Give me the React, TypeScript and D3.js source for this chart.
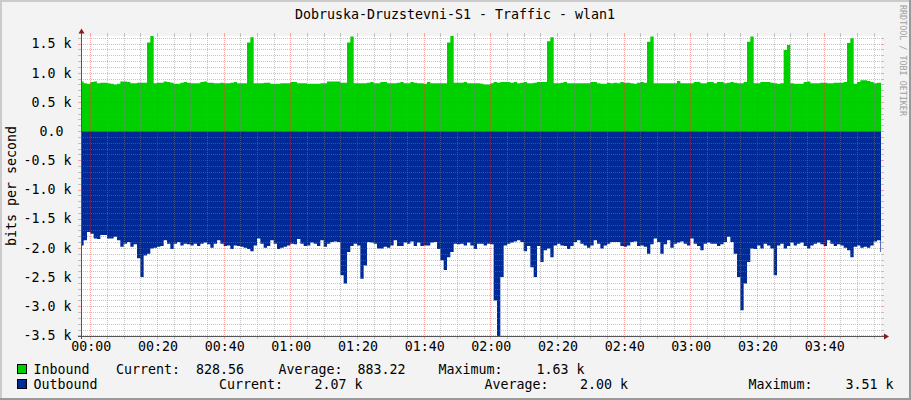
import { useEffect, useRef } from 'react'
import * as d3 from 'd3'

const title = 'Dobruska-Druzstevni-S1 - Traffic - wlan1'
const yAxisTitle = 'bits per second'
const watermark = 'RRDTOOL / TOBI OETIKER'

// one sample per minute, first sample at 23:57 (minute -3)
const firstMinute = -3

// bits per second, inbound traffic
const inbound = [
  850, 820, 810, 840, 850, 820, 830, 830, 820, 810,
  800, 810, 850, 850, 840, 820, 820, 830, 830, 830,
  1520, 1630, 820, 830, 830, 850, 840, 830, 810, 810,
  830, 840, 830, 820, 820, 820, 840, 850, 830, 830,
  820, 820, 830, 820, 820, 830, 840, 820, 820, 820,
  1520, 1610, 820, 820, 820, 830, 830, 810, 810, 810,
  820, 820, 820, 840, 840, 820, 820, 820, 810, 810,
  810, 810, 820, 820, 850, 850, 850, 850, 830, 830,
  1520, 1620, 820, 820, 820, 820, 830, 840, 820, 820,
  840, 840, 820, 820, 820, 830, 840, 820, 820, 840,
  830, 820, 820, 810, 840, 820, 820, 820, 820, 820,
  1520, 1630, 830, 830, 830, 840, 820, 820, 820, 820,
  810, 800, 800, 820, 840, 830, 840, 840, 840, 830,
  840, 820, 830, 840, 820, 820, 830, 840, 840, 840,
  1540, 1610, 820, 820, 830, 840, 820, 820, 820, 820,
  820, 820, 820, 840, 840, 820, 810, 810, 830, 820,
  830, 820, 840, 830, 830, 820, 810, 830, 840, 830,
  1530, 1620, 820, 820, 820, 820, 820, 820, 820, 860,
  820, 820, 820, 820, 840, 840, 820, 820, 840, 840,
  820, 840, 840, 820, 830, 840, 830, 820, 820, 840,
  1530, 1620, 820, 820, 840, 840, 840, 830, 820, 810,
  820, 1390, 1475, 820, 810, 810, 810, 840, 850, 820,
  820, 820, 830, 830, 820, 820, 830, 830, 830, 840,
  1510, 1590, 810, 840, 870, 870, 860, 840, 820, 830,
  829,
]

// bits per second, outbound traffic (drawn below zero)
const outbound = [
  1960, 1870, 1730, 1760, 1840, 1850, 1780, 1780, 1840, 1840,
  1810, 1870, 1980, 1930, 1900, 1980, 1940, 2180, 2500, 2130,
  2100, 2010, 2000, 1980, 1970, 1870, 1930, 2020, 1930, 1900,
  1960, 1930, 1940, 1960, 1930, 1970, 1930, 1910, 1940, 2000,
  1930, 1870, 1930, 1970, 1960, 2020, 1960, 1970, 1980, 2000,
  2020, 2060, 1960, 1840, 1930, 2000, 1970, 1870, 1930, 2020,
  2000, 1980, 1960, 1930, 1940, 1850, 1930, 1970, 1960, 1910,
  1930, 1970, 1870, 1980, 1930, 1900, 1890, 1900, 2470, 2610,
  2070, 1970, 1930, 1960, 2530, 2300, 1900, 1910, 1930, 2010,
  2010, 1980, 2000, 1960, 1870, 1970, 1970, 1910, 1930, 1890,
  1970, 1910, 1970, 1960, 1960, 1910, 1900, 2020, 2210, 2380,
  2160, 2070, 1930, 1940, 1930, 1960, 1910, 1960, 2020, 1930,
  1930, 1960, 1930, 1940, 2900, 3510, 2500, 1960, 1930, 1910,
  1890, 1870, 1900, 2060, 1970, 2330, 2500, 1970, 2240, 2040,
  2010, 2160, 1960, 1930, 1960, 1970, 2020, 1970, 1900, 1870,
  1930, 1960, 2000, 1960, 1870, 1930, 2010, 1960, 1930, 1900,
  1900, 1900, 1970, 1980, 1960, 1900, 1890, 1970, 1960, 1980,
  2100, 1940, 1840, 1900, 2100, 1940, 1870, 2000, 1930, 1910,
  1890, 1930, 1960, 1840, 1930, 1970, 2040, 1930, 1910, 1930,
  1930, 1970, 1940, 1900, 1810, 1900, 2100, 2500, 3070, 2610,
  2240, 2010, 2020, 1960, 2010, 1930, 1960, 2010, 2470, 1960,
  1930, 2010, 1970, 1910, 1960, 1930, 1910, 1970, 2010, 1960,
  1930, 1910, 1940, 1970, 1870, 1930, 1970, 1940, 1960, 2000,
  2040, 2160, 1980, 1960, 2000, 1980, 2000, 1960, 1890, 1870,
  2070,
]

const timeTicks = [0, 20, 40, 60, 80, 100, 120, 140, 160, 180, 200, 220]
const valueTicks = [1500, 1000, 500, 0, -500, -1000, -1500, -2000, -2500, -3000, -3500]

const seriesNames = ['Inbound', 'Outbound']
const seriesColors = ['#00CF00', '#002A97']
const currentValues = ['828.56', '2.07 k']
const averageValues = ['883.22', '2.00 k']
const maximumValues = ['1.63 k', '3.51 k']

const FONT = '"DejaVu Sans Mono", "Liberation Mono", monospace'

export default function App() {
  const svgRef = useRef<SVGSVGElement>(null)

  useEffect(() => {
    if (!svgRef.current) return
    const width = 911
    const height = 400
    const left = 81
    const right = 881
    const top = 36
    const bottom = 336

    const svg = d3.select(svgRef.current)
    svg.selectAll('*').remove()

    const xScale = d3.scaleLinear().domain([-2.8, 237.2]).range([left, right])
    const yScale = d3.scaleLinear().domain([-3510, 1630]).range([bottom, top])

    // frame
    svg.append('rect').attr('width', width).attr('height', height).attr('fill', '#f3f3f3')
    svg.append('path').attr('d', `M1,${height} V1 H${width}`).attr('fill', 'none').attr('stroke', '#cbcbcb').attr('stroke-width', 2)
    svg.append('path').attr('d', `M0,${height - 1} H${width - 1} V0`).attr('fill', 'none').attr('stroke', '#999').attr('stroke-width', 2)

    svg.append('rect')
      .attr('x', left).attr('y', top)
      .attr('width', right - left).attr('height', bottom - top)
      .attr('fill', '#fff')

    svg.append('defs').append('clipPath').attr('id', 'canvas-clip')
      .append('rect')
      .attr('x', left).attr('y', top)
      .attr('width', right - left).attr('height', bottom - top)

    const toPoints = (values: number[], sign: number) => {
      const pts = values.map((v, i) => ({ t: firstMinute + i, v: v * sign }))
      // close the last step
      pts.push({ t: firstMinute + values.length, v: values[values.length - 1] * sign })
      return pts
    }

    const area = d3.area<{ t: number; v: number }>()
      .x(d => xScale(d.t))
      .y0(yScale(0))
      .y1(d => yScale(d.v))
      .curve(d3.curveStepAfter)

    const plot = svg.append('g').attr('clip-path', 'url(#canvas-clip)')
    plot.append('path').attr('d', area(toPoints(inbound, 1))).attr('fill', seriesColors[0])
    plot.append('path').attr('d', area(toPoints(outbound, -1))).attr('fill', seriesColors[1])

    // grid (drawn over the data, as rrdtool does)
    const grid = svg.append('g').attr('shape-rendering', 'crispEdges')
    const minorColor = 'rgba(130,130,130,0.45)'
    const majorColor = 'rgba(255,40,40,0.4)'

    const hValues = d3.range(-3500, 1700, 100)
    hValues.forEach(v => {
      const y = Math.round(yScale(v)) + 0.5
      const major = v % 500 === 0
      const color = major ? majorColor : minorColor
      grid.append('line')
        .attr('x1', left).attr('x2', right).attr('y1', y).attr('y2', y)
        .attr('stroke', color).attr('stroke-dasharray', '1,1')
      grid.append('line')
        .attr('x1', left - 3).attr('x2', left).attr('y1', y).attr('y2', y)
        .attr('stroke', color)
      grid.append('line')
        .attr('x1', right).attr('x2', right + 3).attr('y1', y).attr('y2', y)
        .attr('stroke', color)
    })

    const vValues = d3.range(0, 240, 5).filter(t => xScale(t) < right)
    vValues.forEach(t => {
      const x = Math.round(xScale(t)) + 0.5
      const major = t % 20 === 0
      const color = major ? majorColor : minorColor
      grid.append('line')
        .attr('x1', x).attr('x2', x).attr('y1', top).attr('y2', bottom)
        .attr('stroke', color).attr('stroke-dasharray', '1,1')
      grid.append('line')
        .attr('x1', x).attr('x2', x).attr('y1', top - 3).attr('y2', top)
        .attr('stroke', color)
      grid.append('line')
        .attr('x1', x).attr('x2', x).attr('y1', bottom).attr('y2', bottom + 3)
        .attr('stroke', color)
    })

    // axes with arrows
    const axisColor = '#555'
    const arrowColor = '#8b1a1a'
    svg.append('line')
      .attr('x1', left + 0.5).attr('x2', left + 0.5).attr('y1', bottom + 3).attr('y2', top - 4)
      .attr('stroke', axisColor)
    svg.append('line')
      .attr('x1', left - 3).attr('x2', right + 4).attr('y1', bottom + 0.5).attr('y2', bottom + 0.5)
      .attr('stroke', axisColor)
    svg.append('path')
      .attr('d', `M${left - 2.5},${top - 2.5} L${left + 3.5},${top - 2.5} L${left + 0.5},${top - 7.5} Z`)
      .attr('fill', arrowColor)
    svg.append('path')
      .attr('d', `M${right + 3},${bottom - 2.5} L${right + 3},${bottom + 3.5} L${right + 8},${bottom + 0.5} Z`)
      .attr('fill', arrowColor)

    // y tick labels
    const fmtValue = (v: number) => (v === 0 ? '0.0 ' : `${(v / 1000).toFixed(1)} k`)
    svg.append('g')
      .selectAll('text')
      .data(valueTicks)
      .join('text')
      .attr('x', 71.5)
      .attr('y', d => yScale(d))
      .attr('dy', '0.36em')
      .attr('text-anchor', 'end')
      .style('white-space', 'pre')
      .attr('font-family', FONT)
      .attr('font-size', 13.3)
      .attr('fill', '#000')
      .text(d => fmtValue(d))

    // x tick labels
    const fmtTime = (t: number) =>
      `${String(Math.floor(t / 60)).padStart(2, '0')}:${String(t % 60).padStart(2, '0')}`
    svg.append('g')
      .selectAll('text')
      .data(timeTicks)
      .join('text')
      .attr('x', d => xScale(d) + 1)
      .attr('y', 350.7)
      .attr('text-anchor', 'middle')
      .attr('font-family', FONT)
      .attr('font-size', 13.3)
      .attr('fill', '#000')
      .text(d => fmtTime(d))

    // title and side texts
    svg.append('text')
      .attr('x', 455).attr('y', 19.3)
      .attr('text-anchor', 'middle')
      .attr('font-family', FONT).attr('font-size', 13.3).attr('fill', '#000')
      .text(title)

    svg.append('text')
      .attr('transform', `translate(15.5,${(top + bottom) / 2}) rotate(-90)`)
      .attr('text-anchor', 'middle')
      .attr('font-family', FONT).attr('font-size', 13.3).attr('fill', '#000')
      .text(yAxisTitle)

    svg.append('text')
      .attr('transform', 'translate(900,5) rotate(90)')
      .attr('font-family', FONT).attr('font-size', 8.4).attr('fill', '#a0a0a0')
      .text(watermark)

    // legend
    const rowBaselines = [373.5, 388.5]
    const columns = [
      { label: 116, value: 196, avgLabel: 278.5, avgValue: 357.5, maxLabel: 438.5, maxValue: 536.5 },
      { label: 219, value: 314.5, avgLabel: 484.5, avgValue: 580, maxLabel: 748.5, maxValue: 845.5 },
    ]
    const legend = svg.append('g')
      .attr('font-family', FONT).attr('font-size', 13.3).attr('fill', '#000')
      .style('white-space', 'pre')

    seriesNames.forEach((name, i) => {
      const base = rowBaselines[i]
      const col = columns[i]
      legend.append('rect')
        .attr('x', 17.5).attr('y', base - 9).attr('width', 9).attr('height', 9)
        .attr('fill', seriesColors[i]).attr('stroke', '#000').attr('stroke-width', 1)
      legend.append('text').attr('x', 33.5).attr('y', base).text(name)
      legend.append('text').attr('x', col.label).attr('y', base).text('Current:')
      legend.append('text').attr('x', col.value).attr('y', base).text(currentValues[i])
      legend.append('text').attr('x', col.avgLabel).attr('y', base).text('Average:')
      legend.append('text').attr('x', col.avgValue).attr('y', base).text(averageValues[i])
      legend.append('text').attr('x', col.maxLabel).attr('y', base).text('Maximum:')
      legend.append('text').attr('x', col.maxValue).attr('y', base).text(maximumValues[i])
    })
  }, [])

  return (
    <svg
      ref={svgRef}
      width={911}
      height={400}
      style={{ position: 'absolute', left: 0, top: 0, display: 'block' }}
    />
  )
}
